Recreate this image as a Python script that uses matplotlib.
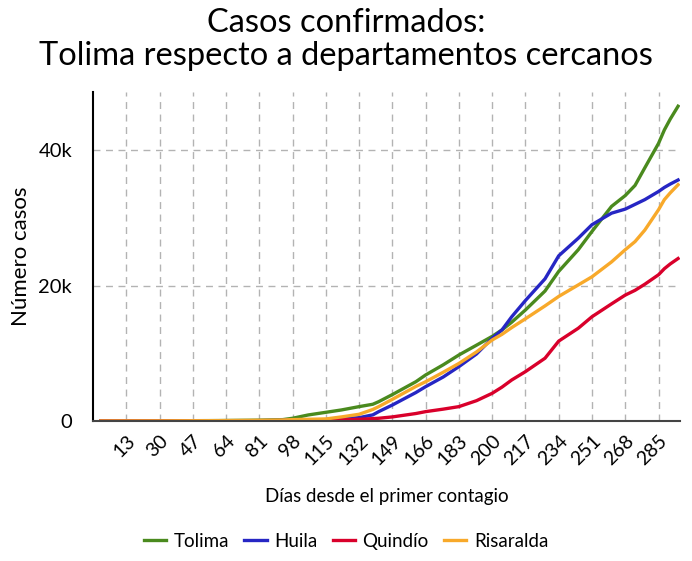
import matplotlib
matplotlib.use("Agg")
import matplotlib.pyplot as plt
from matplotlib.ticker import FuncFormatter

plt.rcParams['font.family'] = ['Lato', 'DejaVu Sans']

# días desde el primer contagio y casos acumulados
dias = [0, 30, 60, 81, 93, 98, 106, 115, 123, 132, 139, 142, 149, 161, 166, 175, 183,
        192, 200, 205, 210, 217, 227, 234, 244, 251, 261, 268, 273, 278, 285, 288, 291, 295]

tolima = [0, 20, 60, 120, 200, 400, 890, 1280, 1630, 2120, 2470, 2850, 3900, 5800, 6800,
          8300, 9750, 11200, 12500, 13450, 14600, 16400, 19200, 22100, 25300, 28000,
          31700, 33300, 34800, 37400, 41000, 43000, 44600, 46500]
huila = [0, 5, 20, 50, 100, 150, 180, 200, 320, 490, 900, 1380, 2360, 4200, 5070, 6500,
         8030, 9900, 12220, 13450, 15400, 17800, 21000, 24400, 27000, 29000, 30700,
         31300, 32000, 32700, 33900, 34500, 35000, 35600]
quindio = [0, 5, 15, 30, 50, 60, 80, 100, 170, 250, 350, 400, 600, 1100, 1380, 1750,
           2120, 3000, 4090, 5000, 6060, 7290, 9270, 11800, 13700, 15400, 17300, 18600,
           19300, 20200, 21600, 22500, 23200, 24000]
risaralda = [0, 15, 50, 100, 150, 200, 250, 300, 600, 990, 1700, 2120, 3200, 5100, 5800,
             7200, 8500, 10200, 11970, 12800, 13800, 15100, 17000, 18400, 20100, 21300,
             23500, 25300, 26500, 28200, 31200, 32700, 33700, 34900]

series = [
    ("Tolima", tolima, "#4a8a1e"),
    ("Huila", huila, "#2626c4"),
    ("Quindío", quindio, "#d9002b"),
    ("Risaralda", risaralda, "#f8a92a"),
]

ticks_x = list(range(13, 286, 17))
ticks_y = [0, 20000, 40000]

fig = plt.figure(figsize=(6.92, 5.61), dpi=100)
ax = fig.add_axes([0.1344, 0.2496, 0.8483, 0.5864])

for nombre, valores, color in series:
    ax.plot(dias, valores, color=color, linewidth=2.4, label=nombre)

ax.set_xlim(-4, 296)
ax.set_ylim(0, 48600)
ax.set_xticks(ticks_x)
ax.set_yticks(ticks_y)
ax.yaxis.set_major_formatter(FuncFormatter(lambda v, p: "0" if v == 0 else f"{int(v/1000)}k"))
ax.tick_params(axis='y', length=0, labelsize=14.5, pad=15)
ax.tick_params(axis='x', length=0, labelsize=14, pad=8)
for lab in ax.get_xticklabels():
    lab.set_rotation(45)
    lab.set_ha('right')
    lab.set_rotation_mode('anchor')

ax.grid(True, linestyle=(0, (5, 4)), color='#b3b3b3', linewidth=1)
ax.set_axisbelow(True)
for s in ['top', 'right']:
    ax.spines[s].set_visible(False)
ax.spines['left'].set_color('black')
ax.spines['left'].set_linewidth(1.5)
ax.spines['bottom'].set_color('#444444')
ax.spines['bottom'].set_linewidth(1.5)

ax.set_xlabel("Días desde el primer contagio", fontsize=13.5, labelpad=14)
ax.set_ylabel("Número casos", fontsize=16, labelpad=5)

fig.suptitle("Casos confirmados:\nTolima respecto a departamentos cercanos",
             fontsize=23.5, y=0.985, linespacing=1.12)

fig.legend(loc='center', ncol=4, frameon=False, fontsize=13.5,
           bbox_to_anchor=(0.5, 1 - 541.5 / 561), handlelength=1.2, columnspacing=0.8,
           handletextpad=0.4)

fig.savefig("out.png", dpi=100)
